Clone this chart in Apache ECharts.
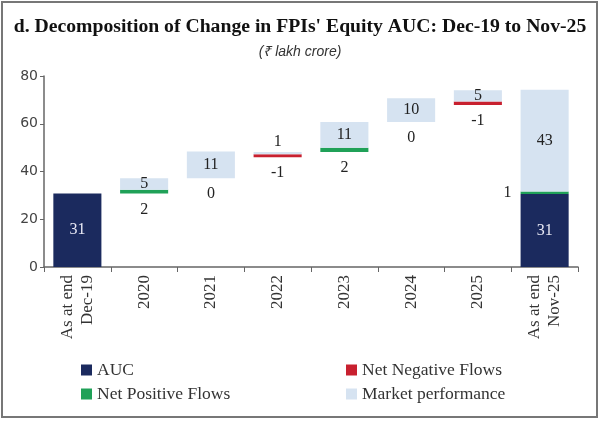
<!DOCTYPE html>
<html>
<head>
<meta charset="utf-8">
<script src="https://cdn.jsdelivr.net/npm/echarts@6/dist/echarts.min.js"></script>
<style>html,body{margin:0;padding:0;background:#fff}#c{width:600px;height:421px}</style>
</head>
<body>
<div id="c"></div>
<script>
// Data (₹ lakh crore)
const categories = ['As at end\nDec-19', '2020', '2021', '2022', '2023', '2024', '2025', 'As at end\nNov-25'];
const aucValues = [30.8, null, null, null, null, null, null, 30.6];
const flowValues = [null, 1.6, 0, -1.2, 1.7, 0, -1.4, 1.0];
const marketValues = [null, 4.8, 11.2, 1.0, 10.8, 10.0, 4.7, 42.6];
const yTicks = { min: 0, max: 80, interval: 20 };

const n = categories.length;
const base = [], auc = [], neg = [], pos = [], mkt = [];
let level = aucValues[0];
for (let i = 0; i < n; i++) {
  const a = aucValues[i], f = flowValues[i], m = marketValues[i];
  auc.push(a == null ? '-' : a);
  if (i === 0 || i === n - 1) {
    base.push('-');
    neg.push('-');
    pos.push(f == null ? '-' : (i === n - 1 ? { value: f, label: { position: 'left', distance: 9 } } : f));
  } else {
    if (f >= 0) { base.push(level); pos.push(f); neg.push('-'); }
    else { base.push(level + 2 * f); neg.push(-f); pos.push('-'); }
    level += f + m;
  }
  mkt.push(m == null ? '-' : { value: m, label: { position: m < 2 ? 'top' : 'inside', distance: 2 } });
}

const serif = 'Liberation Serif';
const flowLabel = {
  show: true, position: 'bottom', distance: 8,
  fontFamily: serif, fontSize: 16, color: '#222',
  formatter: p => String(Math.round(flowValues[p.dataIndex]))
};

const chart = echarts.init(document.getElementById('c'), null, { renderer: 'canvas' });
chart.setOption({
  animation: false,
  backgroundColor: '#fff',
  title: {
    text: "d. Decomposition of Change in FPIs' Equity AUC: Dec-19 to Nov-25",
    subtext: '(₹ lakh crore)',
    left: 'center', top: 12, itemGap: 8,
    textStyle: { fontFamily: serif, fontWeight: 'bold', fontSize: 19.7, color: '#111' },
    subtextStyle: { fontFamily: 'Liberation Sans', fontStyle: 'italic', fontSize: 14, color: '#333' }
  },
  graphic: [{
    type: 'rect', shape: { x: 2, y: 2, width: 595, height: 415 },
    style: { fill: 'none', stroke: '#777', lineWidth: 2 }, silent: true
  }],
  legend: [
    {
      data: ['AUC', 'Net Positive Flows'], orient: 'vertical', left: 76, top: 356, itemGap: 6,
      icon: 'rect', itemWidth: 11, itemHeight: 11,
      textStyle: { fontFamily: serif, fontSize: 17.5, color: '#333' }
    },
    {
      data: ['Net Negative Flows', 'Market performance'], orient: 'vertical', left: 341, top: 356, itemGap: 6,
      icon: 'rect', itemWidth: 11, itemHeight: 11,
      textStyle: { fontFamily: serif, fontSize: 17.5, color: '#333' }
    }
  ],
  grid: { left: 44, right: 22, top: 76, bottom: 154, containLabel: false },
  xAxis: {
    type: 'category', data: categories,
    axisLine: { lineStyle: { color: '#666', width: 1.5 } },
    axisTick: { show: true, length: 5, lineStyle: { color: '#666' } },
    axisLabel: { rotate: 90, margin: 8, interval: 0, fontFamily: serif, fontSize: 17, color: '#333', lineHeight: 20 }
  },
  yAxis: {
    type: 'value', min: yTicks.min, max: yTicks.max, interval: yTicks.interval,
    splitLine: { show: false },
    axisLine: { show: true, lineStyle: { color: '#666', width: 1.5 } },
    axisTick: { show: true, length: 4, lineStyle: { color: '#666' } },
    axisLabel: { fontFamily: 'DejaVu Sans', fontSize: 14, color: '#444', margin: 6 }
  },
  series: [
    { name: 'base', type: 'bar', stack: 't', data: base, barCategoryGap: '28%',
      itemStyle: { color: 'rgba(0,0,0,0)' }, silent: true },
    { name: 'AUC', type: 'bar', stack: 't', data: auc, itemStyle: { color: '#1b2a5e' },
      label: { show: true, position: 'inside', fontFamily: serif, fontSize: 16, color: '#e8e8f4',
        formatter: p => String(Math.round(p.value)) } },
    { name: 'Net Negative Flows', type: 'bar', stack: 't', data: neg, itemStyle: { color: '#c8202f' }, label: flowLabel },
    { name: 'Net Positive Flows', type: 'bar', stack: 't', data: pos, itemStyle: { color: '#20a158' }, label: flowLabel },
    { name: 'Market performance', type: 'bar', stack: 't', data: mkt, itemStyle: { color: '#d6e3f1' },
      label: { show: true, position: 'inside', fontFamily: serif, fontSize: 16, color: '#222',
        formatter: p => String(Math.round(p.value)) } }
  ]
});
</script>
</body>
</html>
